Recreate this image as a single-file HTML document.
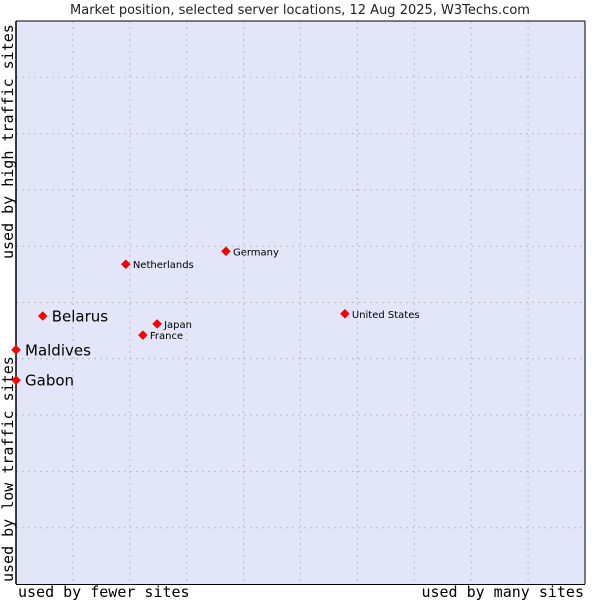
<!DOCTYPE html>
<html><head><meta charset="utf-8"><style>
body{margin:0;background:#fff;width:600px;height:600px;overflow:hidden}
svg{display:block}
</style></head><body>
<svg width="600" height="600" id="chart">
<text x="300" y="14" text-anchor="middle" font-family="DejaVu Sans, sans-serif" font-size="13" fill="#222">Market position, selected server locations, 12 Aug 2025, W3Techs.com</text>
<rect x="16" y="21" width="569" height="563" fill="#e3e5f8"/>
<g id="grid"></g>
<line x1="16" y1="21" x2="16" y2="584" stroke="#000" stroke-width="1.5"/>
<line x1="16" y1="584.5" x2="585" y2="584.5" stroke="#000" stroke-width="1"/>
<line x1="16" y1="21" x2="585" y2="21" stroke="#000" stroke-width="1"/>
<line x1="585" y1="21" x2="585" y2="584" stroke="#000" stroke-width="1"/>
<text x="18" y="597" font-family="DejaVu Sans Mono, monospace" font-size="15">used by fewer sites</text>
<text x="584" y="597" text-anchor="end" font-family="DejaVu Sans Mono, monospace" font-size="15">used by many sites</text>
<text transform="translate(13,582) rotate(-90)" font-family="DejaVu Sans Mono, monospace" font-size="15">used by low traffic sites</text>
<text transform="translate(13,259) rotate(-90)" font-family="DejaVu Sans Mono, monospace" font-size="15">used by high traffic sites</text>
<g id="points"></g>
</svg>
<script>
const names=["Belarus","Maldives","Gabon","Netherlands","Germany","Japan","France","United States"];
const xVals=[4.7,0,0,19.3,36.9,24.8,22.3,57.8];
const yVals=[47.6,41.6,36.2,56.8,59.1,46.2,44.2,48.0];
const bigLabel=[true,true,true,false,false,false,false,false];
const NS="http://www.w3.org/2000/svg";
const X0=16,X1=585,Y0=584,Y1=21;
const xs=v=>X0+v/100*(X1-X0), ys=v=>Y0-v/100*(Y0-Y1);
const grid=document.getElementById('grid');
for(let i=1;i<10;i++){
 const a=document.createElementNS(NS,'line');
 a.setAttribute('x1',xs(i*10));a.setAttribute('x2',xs(i*10));a.setAttribute('y1',Y1);a.setAttribute('y2',Y0);
 a.setAttribute('stroke','#bbb');a.setAttribute('stroke-dasharray','2,4');
 
 
 grid.appendChild(a);
 const b=document.createElementNS(NS,'line');
 b.setAttribute('y1',ys(i*10));b.setAttribute('y2',ys(i*10));b.setAttribute('x1',X0);b.setAttribute('x2',X1);
 b.setAttribute('stroke','#bbb');b.setAttribute('stroke-dasharray','2,4');
 
 
 grid.appendChild(b);
}
const pts=document.getElementById('points');
names.forEach((n,i)=>{
 const x=xs(xVals[i]),y=ys(yVals[i]);
 const d=document.createElementNS(NS,'path');
 d.setAttribute('d',`M${x},${y-4.5}L${x+4.5},${y}L${x},${y+4.5}L${x-4.5},${y}Z`);
 d.setAttribute('fill','#f00');d.setAttribute('stroke','#c00');d.setAttribute('stroke-width','0.5');
 
 
 pts.appendChild(d);
 const t=document.createElementNS(NS,'text');
 t.setAttribute('x',x+(bigLabel[i]?9:7));t.setAttribute('y',y+(bigLabel[i]?5.5:4));
 t.setAttribute('font-family','DejaVu Sans, sans-serif');
 t.setAttribute('font-size',bigLabel[i]?'15':'10');
 t.textContent=n;
 
 
 pts.appendChild(t);
});
</script>
</body></html>
